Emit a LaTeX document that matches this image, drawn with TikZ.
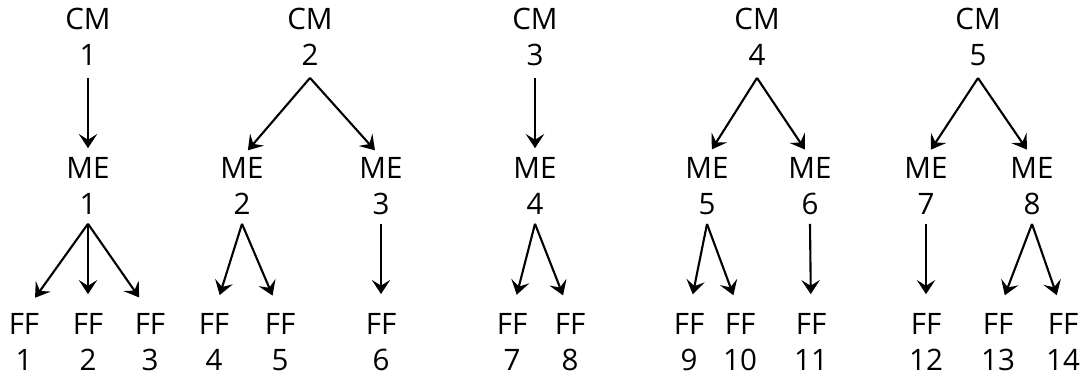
\documentclass[tikz,border=0pt]{standalone}
\usepackage{fontspec}
\setmainfont{Open Sans}
\usetikzlibrary{arrows.meta}

\begin{document}
\begin{tikzpicture}[x=0.025cm, y=-0.025cm,
    unit/.style={align=center, inner sep=0pt, font=\fontsize{21}{25.6}\selectfont},
    link/.style={-{Stealth[length=10pt, width=13pt, inset=4pt]}, line width=1.5pt},
    uplink/.style={link, shorten >=6.4pt},
    lowlink/.style={link, shorten >=13.5pt}]
                    \useasboundingbox (0,0) rectangle (1082,379);

                    % Top row
                    \node[unit] (cm1) at (88,37) {CM\\1};
                    \node[unit] (cm2) at (310,37) {CM\\2};
                    \node[unit] (cm3) at (535,37) {CM\\3};
                    \node[unit] (cm4) at (757,37) {CM\\4};
                    \node[unit] (cm5) at (978,37) {CM\\5};

                    % Middle row
                    \node[unit] (me1) at (88,186) {ME\\1};
                    \node[unit] (me2) at (242,186) {ME\\2};
                    \node[unit] (me3) at (381,186) {ME\\3};
                    \node[unit] (me4) at (535,186) {ME\\4};
                    \node[unit] (me5) at (707,186) {ME\\5};
                    \node[unit] (me6) at (810,186) {ME\\6};
                    \node[unit] (me7) at (926,186) {ME\\7};
                    \node[unit] (me8) at (1032,186) {ME\\8};

                    % Bottom row
                    \node[unit] (ff1) at (24,342) {FF\\1};
                    \node[unit] (ff2) at (88,342) {FF\\2};
                    \node[unit] (ff3) at (150,342) {FF\\3};
                    \node[unit] (ff4) at (214,342) {FF\\4};
                    \node[unit] (ff5) at (280,342) {FF\\5};
                    \node[unit] (ff6) at (381,342) {FF\\6};
                    \node[unit] (ff7) at (512,342) {FF\\7};
                    \node[unit] (ff8) at (570,342) {FF\\8};
                    \node[unit] (ff9) at (689,342) {FF\\9};
                    \node[unit] (ff10) at (740,342) {FF\\10};
                    \node[unit] (ff11) at (811,342) {FF\\11};
                    \node[unit] (ff12) at (926,342) {FF\\12};
                    \node[unit] (ff13) at (998,342) {FF\\13};
                    \node[unit] (ff14) at (1063,342) {FF\\14};

                    % CM to ME
                    \draw[uplink] ([yshift=-8.5pt]cm1.south) -- (me1.north);
                    \draw[uplink] ([yshift=-8.5pt]cm2.south) -- (me2.north);
                    \draw[uplink] ([yshift=-8.5pt]cm2.south) -- (me3.north);
                    \draw[uplink] ([yshift=-8.5pt]cm3.south) -- (me4.north);
                    \draw[uplink] ([yshift=-8.5pt]cm4.south) -- (me5.north);
                    \draw[uplink] ([yshift=-8.5pt]cm4.south) -- (me6.north);
                    \draw[uplink] ([yshift=-8.5pt]cm5.south) -- (me7.north);
                    \draw[uplink] ([yshift=-8.5pt]cm5.south) -- (me8.north);

                    % ME to FF
                    \draw[lowlink] ([yshift=-6.4pt]me1.south) -- (ff1.north);
                    \draw[lowlink] ([yshift=-6.4pt]me1.south) -- (ff2.north);
                    \draw[lowlink] ([yshift=-6.4pt]me1.south) -- (ff3.north);
                    \draw[lowlink] ([yshift=-6.4pt]me2.south) -- (ff4.north);
                    \draw[lowlink] ([yshift=-6.4pt]me2.south) -- (ff5.north);
                    \draw[lowlink] ([yshift=-6.4pt]me3.south) -- (ff6.north);
                    \draw[lowlink] ([yshift=-6.4pt]me4.south) -- (ff7.north);
                    \draw[lowlink] ([yshift=-6.4pt]me4.south) -- (ff8.north);
                    \draw[lowlink] ([yshift=-6.4pt]me5.south) -- (ff9.north);
                    \draw[lowlink] ([yshift=-6.4pt]me5.south) -- (ff10.north);
                    \draw[lowlink] ([yshift=-6.4pt]me6.south) -- (ff11.north);
                    \draw[lowlink] ([yshift=-6.4pt]me7.south) -- (ff12.north);
                    \draw[lowlink] ([yshift=-6.4pt]me8.south) -- (ff13.north);
                    \draw[lowlink] ([yshift=-6.4pt]me8.south) -- (ff14.north);
                \end{tikzpicture}
\end{document}
